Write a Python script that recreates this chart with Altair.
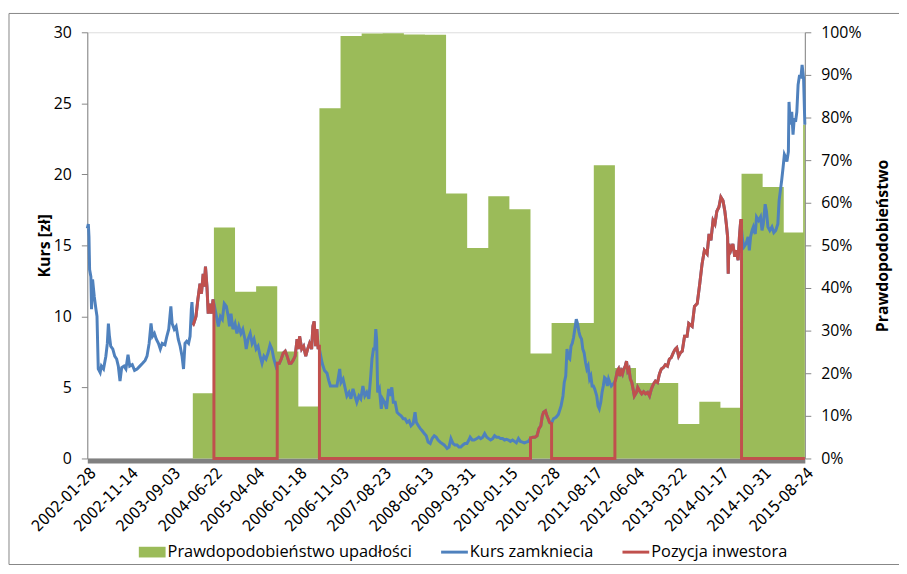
import altair as alt
import pandas as pd

# ---------------- data ----------------
X_LABELS = ["2002-01-28", "2002-11-14", "2003-09-03", "2004-06-22", "2005-04-04",
            "2006-01-18", "2006-11-03", "2007-08-23", "2008-06-13", "2009-03-31",
            "2010-01-15", "2010-10-28", "2011-08-17", "2012-06-04", "2013-03-22",
            "2014-01-17", "2014-10-31", "2015-08-24"]
LABEL_STEP = 200          # trading sessions between two axis labels
LAST_SESSION = 3400

# bankruptcy probability (%), constant over blocks of 100 sessions
STEP_START = [500, 600, 700, 800, 900, 1000, 1100, 1200, 1300, 1400, 1500, 1600,
              1700, 1800, 1900, 2000, 2100, 2200, 2300, 2400, 2500, 2600, 2700,
              2800, 2900, 3000, 3100, 3200, 3300, 3392, 3400]
PROB = [15.3, 54.2, 39.1, 40.4, 25.1, 12.2, 82.2, 99.1, 99.7, 99.8, 99.5, 99.4,
        62.2, 49.4, 61.5, 58.5, 24.6, 31.8, 31.8, 68.8, 21.2, 17.7, 17.7,
        8.1, 13.3, 11.9, 66.8, 63.7, 53.0, 78.3, 78.3]

# closing price (zł) by session index
PRICE_T = [0, 5, 8, 11, 17, 20, 25, 33, 41, 46, 52, 61, 67, 77, 88, 95, 100, 105, 111,
           121, 130, 139, 147, 155, 163, 174, 183, 193, 201, 213, 224, 236, 249, 262,
           274, 283, 293, 302, 309, 318, 327, 337, 346, 355, 368, 377, 386, 396, 402,
           412, 421, 431, 440, 449, 456, 463, 471, 480, 487, 493, 496,
           502, 515, 524, 534, 541, 549, 554, 560, 567, 573, 581, 588, 596, 603, 612,
           621, 631, 640, 649, 659, 668, 674, 681, 690, 700, 709, 718, 728, 737, 747,
           753, 762, 772, 781, 790, 800, 809, 819, 828, 837, 847, 856, 866, 875, 884,
           894, 900, 910, 919, 928, 938, 947, 957, 966, 975, 985, 994, 1000, 1006, 1016,
           1025, 1035, 1044, 1053, 1063, 1069, 1075, 1082, 1088, 1094, 1097,
           1105, 1113, 1124, 1136, 1144, 1152, 1168, 1183, 1196, 1202, 1212, 1221, 1230,
           1240, 1249, 1259, 1268, 1277, 1287, 1296, 1306, 1315, 1324, 1334, 1343, 1349,
           1356, 1362, 1367, 1371, 1376, 1384, 1393, 1399, 1409, 1418, 1428, 1434, 1443,
           1450, 1459, 1468, 1478, 1487, 1497, 1506, 1515, 1525, 1534, 1544, 1553, 1559,
           1569, 1578, 1587, 1597, 1606, 1615, 1625, 1634, 1644, 1653, 1662, 1672, 1681,
           1691, 1700, 1705, 1714, 1723, 1733, 1742, 1752, 1761, 1770, 1780, 1789, 1799,
           1808, 1814, 1824, 1833, 1846, 1855, 1864, 1874, 1883, 1893, 1902, 1911, 1921,
           1930, 1939, 1949, 1958, 1968, 1977, 1986, 1996, 2005, 2015, 2024, 2033, 2043,
           2052, 2062, 2071, 2080, 2090, 2102, 2112, 2121, 2131, 2140, 2149, 2156, 2162,
           2171, 2178, 2184, 2190, 2199, 2209, 2221, 2232, 2245, 2254, 2260, 2267, 2273,
           2279, 2286, 2292, 2298, 2304, 2310, 2317, 2323, 2329, 2335, 2342, 2348, 2354,
           2361, 2367, 2373, 2380, 2386, 2392, 2398, 2404, 2414, 2420, 2426, 2433, 2439,
           2445, 2451, 2458, 2464, 2470, 2476, 2483, 2489, 2498, 2504, 2511, 2517, 2523,
           2530, 2536, 2542, 2549, 2555, 2561, 2567, 2573, 2580, 2586, 2592, 2602, 2608,
           2617, 2627, 2636, 2645, 2655, 2664, 2673, 2683, 2692, 2702, 2711, 2720, 2730,
           2739, 2749, 2758, 2767, 2777, 2786, 2793, 2802, 2811, 2819, 2830, 2842, 2850,
           2866, 2877, 2890, 2902, 2913, 2924, 2937, 2946, 2955, 2965, 2974, 2983, 2993,
           3002, 3012, 3021, 3028, 3034, 3037, 3040, 3049, 3059, 3068, 3074, 3084, 3090,
           3096, 3105, 3112, 3121, 3131, 3137, 3143, 3150, 3156, 3165, 3171, 3181, 3190,
           3197, 3203, 3212, 3218, 3225, 3234, 3244, 3253, 3262, 3272, 3278, 3284, 3290,
           3297, 3303, 3309, 3315, 3322, 3325, 3331, 3338, 3344, 3350, 3356, 3362, 3368,
           3375, 3381, 3387, 3394, 3400]
PRICE = [16.2, 16.5, 15.6, 13.3, 12.8, 10.5, 12.6, 11.4, 10.5, 10.0, 6.3, 6.05, 6.5, 6.3,
         7.2, 8.1, 9.5, 8.6, 7.9, 7.7, 7.2, 7.0, 6.5, 5.45, 6.4, 6.5, 6.3, 7.3, 6.5, 6.6,
         6.2, 6.3, 6.5, 6.7, 6.9, 7.2, 8.1, 9.5, 8.6, 8.8, 8.4, 8.1, 7.7, 8.1, 8.0, 8.6,
         9.1, 10.7, 9.5, 9.1, 9.3, 8.4, 7.9, 7.2, 6.3, 8.1, 8.25, 8.1, 8.6, 10.5, 11.0,
         9.4, 10.0, 11.2, 12.3, 11.6, 13.0, 12.1, 13.5, 12.1, 10.2, 10.9, 10.2, 11.2, 10.7,
         10.0, 9.3, 10.0, 9.8, 10.9, 10.7, 10.0, 9.3, 10.2, 9.1, 9.5, 8.8, 9.3, 8.8, 9.1,
         8.4, 7.7, 8.4, 8.8, 8.1, 8.4, 7.7, 7.9, 7.2, 6.7, 7.2, 7.0, 7.4, 8.0, 7.7, 7.0,
         6.5, 6.7, 6.7, 7.0, 7.4, 7.55, 7.2, 6.7, 6.7, 6.9, 7.2, 8.4, 7.7, 8.6, 7.7,
         7.9, 7.2, 7.7, 8.1, 7.7, 9.3, 9.65, 7.9, 9.1, 7.7, 7.9,
         7.3, 6.7, 6.2, 6.0, 5.5, 5.1, 5.1, 5.1, 6.3, 5.35, 5.6, 5.0, 4.4,
         4.65, 4.2, 4.9, 4.4, 3.95, 4.4, 4.2, 5.1, 4.4, 4.65, 4.2, 5.8, 7.0,
         7.7, 7.7, 9.1, 8.4, 4.65, 4.9, 3.5, 4.2, 3.95, 3.5, 4.9, 4.4, 5.0,
         3.95, 3.95, 3.25, 3.1, 3.0, 2.8, 2.8, 2.55, 2.65, 2.3, 2.45, 3.25, 2.55,
         2.3, 2.1, 1.95, 1.75, 1.6, 1.15, 1.05, 1.4, 1.6, 1.5, 1.3, 1.15, 1.05,
         0.95, 0.8, 0.7, 0.8, 1.4, 1.05, 0.95, 0.95, 0.8, 0.8, 0.95, 1.05, 1.05,
         1.3, 1.5, 1.3, 1.3, 1.4, 1.5, 1.4, 1.5, 1.75, 1.5, 1.4, 1.3, 1.4,
         1.6, 1.5, 1.5, 1.4, 1.4, 1.3, 1.35, 1.3, 1.2, 1.3, 1.2, 1.1, 1.4,
         1.2, 1.15, 1.1, 1.15, 1.2, 1.45, 1.5, 1.5, 1.6, 2.1, 2.3, 3.0, 3.25,
         3.35, 3.0, 2.8, 2.55, 2.45, 2.8, 2.9, 3.1, 3.7, 4.4, 5.35, 5.8, 7.7,
         7.1, 7.0, 7.9, 8.1, 8.5, 9.1, 9.8, 9.5, 8.95, 8.6, 8.4, 7.7, 7.45,
         6.75, 6.3, 6.5, 5.6, 5.8, 5.1, 5.1, 4.9, 4.4, 3.7, 3.5, 3.95, 4.65,
         5.1, 5.7, 5.6, 5.1, 5.6, 5.35, 5.1, 5.2, 5.35, 5.6, 6.15, 6.3, 5.8,
         6.15, 5.95, 6.3, 6.5, 6.85, 6.15, 6.3, 5.6, 5.35, 4.9, 4.4, 4.65, 5.0,
         4.75, 4.55, 4.7, 4.55, 4.65, 4.4, 4.9, 5.25, 5.45, 5.35, 5.95, 6.3, 6.4,
         6.6, 6.5, 7.0, 7.1, 7.45, 7.7, 7.8, 7.2, 7.45, 7.55, 8.6, 8.6, 9.5,
         9.3, 10.7, 10.9, 12.3, 13.7, 14.65, 14.4, 15.8, 15.35, 16.75, 16.5, 17.4, 17.7,
         18.4, 18.15, 17.4, 16.5, 15.6, 13.0, 15.1, 14.65, 15.1, 14.2, 14.65, 13.95, 15.6,
         16.75, 15.35, 14.9, 15.1, 15.6, 14.65, 15.6, 16.05, 16.3, 15.8, 17.0, 16.75, 17.0,
         16.05, 16.5, 17.9, 17.4, 16.3, 16.05, 16.3, 15.9, 16.05, 16.5, 18.15, 18.85, 19.55,
         20.5, 21.4, 21.2, 20.9, 21.6, 25.1, 23.5, 24.4, 22.8, 23.95, 23.7, 24.4, 26.3,
         27.0, 26.75, 27.7, 26.75, 23.5]

# sessions during which the investor holds the stock
HOLD = [(500, 600), (900, 1100), (2100, 2200), (2500, 3100)]

NAMES = ["Prawdopodobieństwo upadłości", "Kurs zamkniecia", "Pozycja inwestora"]
GREEN, BLUE, RED = "#9BBB59", "#4F81BD", "#C0504D"

# ---------------- tables ----------------
prob_df = pd.DataFrame({"t": STEP_START, "prob": PROB})
price_df = pd.DataFrame({"t": PRICE_T, "price": PRICE})


def price_at(t):
    j = min(range(len(PRICE_T)), key=lambda k: abs(PRICE_T[k] - t))
    return PRICE[j]


pos_rows = []
for a, b in HOLD:
    if pos_rows:
        pos_rows.append((a, 0.0))
    pos_rows.append((a, price_at(a)))
    pos_rows += [(t, p) for t, p in zip(PRICE_T, PRICE) if a < t < b]
    pos_rows.append((b, price_at(b)))
    pos_rows.append((b, 0.0))
pos_rows.append((LAST_SESSION, 0.0))
pos_df = pd.DataFrame(pos_rows, columns=["t", "pos"])
pos_df["i"] = range(len(pos_df))

legend_df = pd.DataFrame({"series": NAMES})

# ---------------- chart ----------------
FONT = "Open Sans"
NARROW = "Liberation Sans Narrow, DejaVu Sans Condensed, sans-serif"
label_js = "[" + ",".join("'%s'" % s for s in X_LABELS) + "]"

x_enc = alt.X(
    "t:Q",
    scale=alt.Scale(domain=[0, LAST_SESSION], nice=False, zero=False),
    axis=alt.Axis(
        values=list(range(0, LAST_SESSION + 1, LABEL_STEP)),
        labelExpr=label_js + "[round(datum.value / %d)]" % LABEL_STEP,
        labelAngle=315, labelFont=NARROW,
        labelFontSize=16, labelColor="#000000", labelPadding=4,
        ticks=False, domainColor="#808080", domainWidth=5, offset=2,
        title=None, grid=False, labelOverlap=False,
    ),
)

area = alt.Chart(prob_df).mark_area(color=GREEN, interpolate="step-after", opacity=1).encode(
    x=x_enc,
    y=alt.Y(
        "prob:Q",
        scale=alt.Scale(domain=[0, 100], nice=False),
        axis=alt.Axis(
            orient="right", values=list(range(0, 101, 10)),
            labelExpr="datum.value + '%'", title="Prawdopodobieństwo",
            titleAngle=270, titleFontWeight="bold", titleFontSize=16, titleFont=FONT,
            titleX=78, titleY=215, titleAlign="center", titleBaseline="middle",
            labelFont=FONT, labelFontSize=16, labelColor="#000000",
            labelPadding=10, tickSize=6, tickColor="#868686", domainColor="#868686",
            grid=False, titleColor="#000000",
        ),
    ),
)

left_axis = alt.Axis(
    orient="left", values=list(range(0, 31, 5)), title="Kurs [zł]",
    titleFontWeight="bold", titleFontSize=16, titleFont=FONT,
    titleX=-43, titleY=215, titleAlign="center", titleBaseline="middle",
    labelFont=FONT, labelFontSize=16, labelColor="#000000", labelPadding=10,
    tickSize=6, tickColor="#868686", domainColor="#868686", grid=False,
    titleColor="#000000",
)

blue = alt.Chart(price_df).mark_line(color=BLUE, strokeWidth=3).encode(
    x=x_enc,
    y=alt.Y("price:Q", scale=alt.Scale(domain=[0, 30], nice=False), axis=left_axis),
)

red = alt.Chart(pos_df).mark_line(color=RED, strokeWidth=3).encode(
    x=x_enc,
    y=alt.Y("pos:Q", scale=alt.Scale(domain=[0, 30], nice=False), axis=left_axis),
    order=alt.Order("i:Q"),
)

BOX = "M-1,-0.4H1V0.4H-1Z"
BAR = "M-1,-0.11H1V0.11H-1Z"
leg = alt.Legend(
    title=None, orient="none", legendX=52, legendY=511, direction="horizontal",
    symbolSize=729, symbolStrokeWidth=0, symbolOpacity=1,
    labelFont=FONT, labelFontSize=16.5, labelColor="#000000", labelOffset=2,
    labelLimit=400, columnPadding=29, padding=0,
)
legend_layer = alt.Chart(legend_df).mark_point(filled=True, opacity=1).encode(
    color=alt.Color("series:N", scale=alt.Scale(domain=NAMES, range=[GREEN, BLUE, RED]), legend=leg),
    shape=alt.Shape("series:N", scale=alt.Scale(domain=NAMES, range=[BOX, BAR, BAR]), legend=leg),
).transform_filter("false")

frame = alt.Chart(alt.Data(values=[{}])).mark_rect(fill=None, stroke="#868686", strokeWidth=1).encode(
    x=alt.value(-79), x2=alt.value(830), y=alt.value(-19), y2=alt.value(537),
)

lines = alt.layer(blue, red, legend_layer)

chart = alt.layer(frame, area, lines).resolve_scale(y="independent").properties(
    width=724, height=430,
    autosize=alt.AutoSizeParams(type="none"),
    padding={"left": 80, "top": 22, "right": 95, "bottom": 106},
).configure_view(stroke=None).configure(background="white")

chart.save("out.html", embed_options={"renderer": "svg", "actions": False})
